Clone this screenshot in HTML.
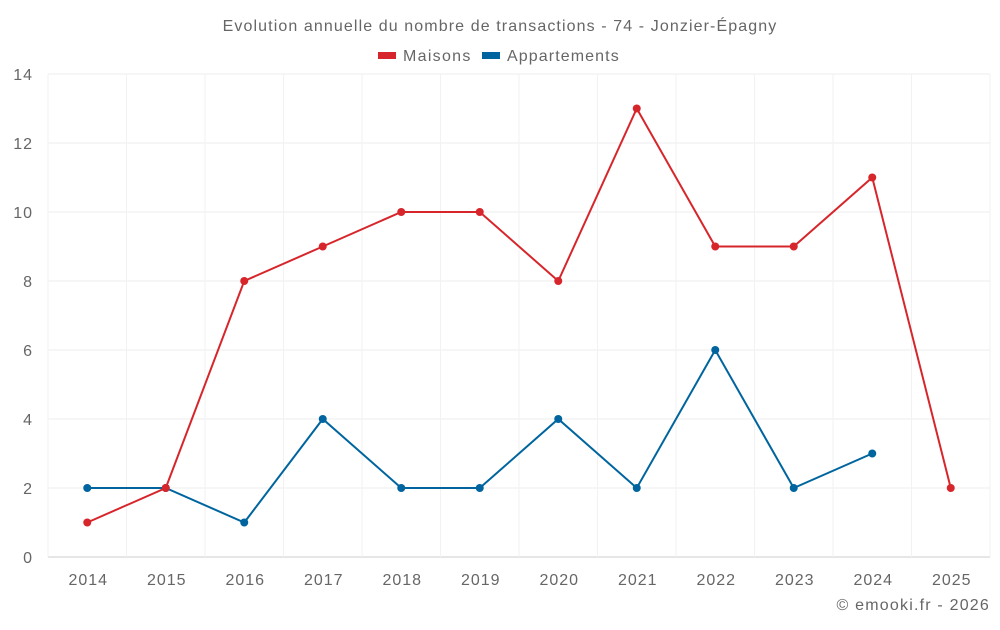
<!DOCTYPE html>
<html><head><meta charset="utf-8"><style>
body{margin:0;background:#fff;font-family:"Liberation Sans",sans-serif;}
svg text{font-family:"Liberation Sans",sans-serif;fill:#666;letter-spacing:1px;}
</style></head><body>
<svg id="chart" width="1000" height="625" xmlns="http://www.w3.org/2000/svg">
<text x="500" y="31" text-anchor="middle" font-size="16" style="letter-spacing:1.1px">Evolution annuelle du nombre de transactions - 74 - Jonzier-Épagny</text>
<g>
<g><rect x="378" y="52" width="18" height="7" fill="#d7262b"/><text x="403" y="61" font-size="16" style="letter-spacing:1.3px">Maisons</text></g>
<g><rect x="482" y="52" width="18" height="7" fill="#00659e"/><text x="507" y="61" font-size="16" style="letter-spacing:1.1px">Appartements</text></g>
</g>
<g id="grid"></g><g id="axes"></g><g id="series"></g>
<text x="990" y="610" text-anchor="end" font-size="16" style="letter-spacing:1.2px">© emooki.fr - 2026</text>
</svg>
<script>
const categories=["2014","2015","2016","2017","2018","2019","2020","2021","2022","2023","2024","2025"];
const maisons=[1,2,8,9,10,10,8,13,9,9,11,2];
const appartements=[2,2,1,4,2,2,4,2,6,2,3,null];
const yTicks=[0,2,4,6,8,10,12,14];
const L=48,R=990,T=74,B=557,yMax=14;
const bw=(R-L)/categories.length;
const xs=i=>L+bw*(i+0.5);
const ys=v=>B-(v/yMax)*(B-T);
const NS="http://www.w3.org/2000/svg";
function mk(tag,attrs,parent){const e=document.createElementNS(NS,tag);for(const k in attrs)e.setAttribute(k,attrs[k]);parent.appendChild(e);return e;}
const grid=document.getElementById('grid'),axes=document.getElementById('axes'),series=document.getElementById('series');
yTicks.forEach(t=>{
  const l=mk('line',{x1:L,x2:R,y1:ys(t),y2:ys(t),stroke:t===0?'#ccc':'#eee','stroke-width':1},grid);
  
  
  const tx=mk('text',{x:33,y:ys(t)+6,'text-anchor':'end','font-size':16},axes);
  tx.textContent=t;
  
  
});
for(let i=0;i<=categories.length;i++){
  const l=mk('line',{x1:L+bw*i,x2:L+bw*i,y1:T,y2:B,stroke:'#f2f2f2','stroke-width':1},grid);
  
  
}
categories.forEach((c,i)=>{
  const tx=mk('text',{x:xs(i)+1,y:585,'text-anchor':'middle','font-size':16},axes);
  tx.textContent=c;
  
  
});
function draw(data,color,name){
  const pts=[];data.forEach((v,i)=>{if(v!=null)pts.push([xs(i),ys(v)]);});
  const p=mk('polyline',{points:pts.map(p=>p.join(',')).join(' '),fill:'none',stroke:color,'stroke-width':2},series);
  
  
  pts.forEach(q=>{
    const c=mk('circle',{cx:q[0],cy:q[1],r:4,fill:color},series);
    
    
  });
}
draw(appartements,'#00659e','appartements');
draw(maisons,'#d7262b','maisons');
</script>
</body></html>
